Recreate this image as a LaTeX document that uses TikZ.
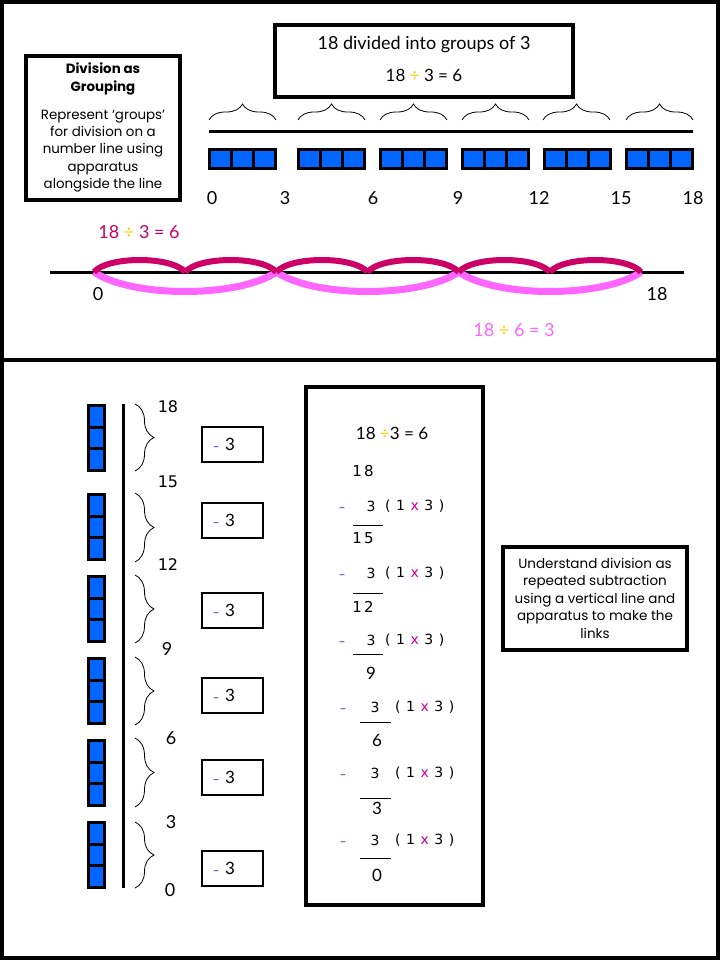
\documentclass[tikz,border=0pt]{standalone}
\usepackage{fontspec}
\setmainfont{Lato}
\newfontfamily\comicf{Poppins}
\newfontfamily\verdf{DejaVu Sans}
\usetikzlibrary{decorations.pathreplacing}
\definecolor{blueb}{RGB}{0,102,255}
\definecolor{darkpink}{RGB}{204,0,102}
\definecolor{lightpink}{RGB}{255,102,255}
\definecolor{goldc}{RGB}{255,204,0}
\definecolor{xmag}{RGB}{204,0,153}
\definecolor{navy}{RGB}{51,51,153}
\newcommand{\dv}{{\color{goldc}÷}}
\newcommand{\gp}{\hspace{0.4em}}
\begin{document}
\begin{tikzpicture}[x=1pt,y=-1pt,
  txt/.style={inner sep=0pt, outer sep=0pt},
  thickbox/.style={draw=black, line width=4pt},
  minusbox/.style={draw=black, line width=2.5pt},
  bracehor/.style={draw=black, line width=0.8pt, decorate, decoration={brace, amplitude=16pt}},
  bracever/.style={draw=black, line width=0.8pt, decorate, decoration={brace, amplitude=19pt}},
  darkarc/.style={draw=darkpink, line width=6pt},
  lightarc/.style={draw=lightpink, line width=7pt},
  numA/.style={txt, font=\fontsize{18}{20}\selectfont},
  numB/.style={txt, font=\verdf\fontsize{16}{18}\selectfont},
  numC/.style={txt, font=\verdf\fontsize{14}{16}\selectfont},
  numD/.style={txt, font=\fontsize{17}{19}\selectfont},
  minussign/.style={txt, anchor=base, text=navy, font=\verdf\fontsize{12}{14}\selectfont},
]
\useasboundingbox (0,0) rectangle (720,960);
\fill[white] (0,0) rectangle (720,960);
% outer frame and divider
\draw[line width=4pt] (2,2) rectangle (718,958);
\draw[line width=4pt] (0,359.5) -- (720,359.5);

% ---------- TOP PANEL ----------
\draw[thickbox, line width=3.5pt] (26,56) rectangle (180,200);
\node[txt, align=center, font=\comicf\bfseries\fontsize{13.4}{18}\selectfont] (head) at (103,79) {Division as\\Grouping};
\node[txt, align=center, font=\comicf\fontsize{13.4}{17.25}\selectfont] (body) at (103,151) {Represent ‘groups’\\for division on a\\number line using\\apparatus\\alongside the line};

\draw[thickbox] (275,25) rectangle (573,97);
\node[txt, anchor=base, font=\fontsize{18}{20}\selectfont] (title) at (424,50) {18 divided into groups of 3};
\node[txt, font=\fontsize{17}{19}\selectfont] (titleeq) at (424,75) {18 \dv{} 3 = 6};

\foreach \x in {209,298,380,462,543,626}{
  \draw[bracehor] (\x,120) -- (\x+67,120);
}
\draw[line width=3pt] (209,132) -- (693,132);
\foreach \x in {208,297,379,461,543,625}{
  \fill[black] (\x,148) rectangle ++(69,22);
  \foreach \i in {0,1,2}{
    \fill[blueb] (\x+3+\i*22,151) rectangle ++(19,16);
  }
}
\foreach \v/\x in {0/212,3/285,6/373,9/458,12/539,15/621,18/693}{
  \node[numA] (t\v) at (\x,198) {\v};
}

% number line with jumps
\draw[line width=3pt] (50,272) -- (684,272);
\foreach \i in {0,2,4}{
  \draw[lightarc] ({94+\i*91.17},272) .. controls +(38,26) and +(-38,26) .. ({94+(\i+2)*91.17},272);
}
\foreach \i in {0,...,5}{
  \draw[darkarc] ({94+\i*91.17},272) .. controls +(14,-16) and +(-14,-16) .. ({94+(\i+1)*91.17},272);
}
\node[numA, text=darkpink] (eqA) at (139,232) {18 \dv{} 3 = 6};
\node[numA] (n0) at (98,294) {0};
\node[numA] (n18) at (657,294) {18};
\node[numA, text=lightpink] (eqB) at (514,330) {18 \dv{} 6 = 3};

% ---------- BOTTOM PANEL ----------
\draw[line width=3pt] (123,404) -- (123,888);
\foreach \y in {404,493,575,657,739,821}{
  \fill[black] (87,\y) rectangle ++(19,68);
  \foreach \i in {0,1,2}{
    \fill[blueb] (90,{\y+3+\i*21.67}) rectangle ++(13,18.67);
  }
}
\foreach \a/\b in {404/471,493/562,575/643,657/725,738/807,822/888}{
  \draw[bracever] (135,\a) -- (135,\b);
}
\node[numB] (v18) at (168,407) {18};
\node[numB] (v15) at (168,482) {15};
\node[numB] (v12) at (168,565) {12};
\node[numA] (v9) at (167,649) {9};
\node[numA] (v6) at (171,738) {6};
\node[numA] (v3) at (171,822) {3};
\node[numA] (v0) at (170,890) {0};

\foreach \y [count=\k] in {427,503,593,678,760,851}{
  \draw[minusbox] (202,\y) rectangle (263,\y+35);
  \node[minussign] (mb\k) at (216,\y+23) {–};
  \node[txt, font=\fontsize{17}{18}\selectfont] (tb\k) at (230,\y+17) {3};
}

% long division box
\draw[thickbox, line width=4.5pt] (306,387) rectangle (483,905);
\node[txt, font=\fontsize{17}{19}\selectfont] (deq) at (392,433) {18 \dv{}3 = 6};
\node[numC, font=\verdf\fontsize{15}{17}\selectfont] (d18) at (363,471) {1\hspace{0.15em}8};
\foreach \y/\mx/\tx/\px [count=\k] in {506/342/371/385,573/342/371/385,640/342/371/385,707/343/375/395,773/343/375/395,840/343/375/395}{
  \node[minussign] (dm\k) at (\mx,\y+5) {–};
  \node[numC] (dt\k) at (\tx,\y) {3};
  \node[numC, anchor=west] (dp\k) at (\px,\y) {(\gp 1\gp{\color{xmag}x}\gp 3\gp)};
}
\foreach \y/\a/\b in {525/353/383,593/353/383,654/353/383,722/360/391,798/360/391,858/360/391}{
  \draw[line width=1pt] (\a,\y) -- (\b,\y);
}
\node[numC, font=\verdf\fontsize{15}{17}\selectfont] (d15) at (363,538) {1\hspace{0.15em}5};
\node[numC, font=\verdf\fontsize{15}{17}\selectfont] (d12) at (363,607) {1\hspace{0.15em}2};
\node[numD] (d9) at (371,673) {9};
\node[numD] (d6) at (377,740) {6};
\node[numD] (d3) at (377,808) {3};
\node[numD] (d0) at (377,875) {0};

% right text box
\draw[thickbox] (503,547) rectangle (687,650);
\node[txt, align=center, font=\comicf\fontsize{13.5}{17.5}\selectfont] (under) at (595,598) {Understand division as\\repeated subtraction\\using a vertical line and\\apparatus to make the\\links};
\end{tikzpicture}
\end{document}
